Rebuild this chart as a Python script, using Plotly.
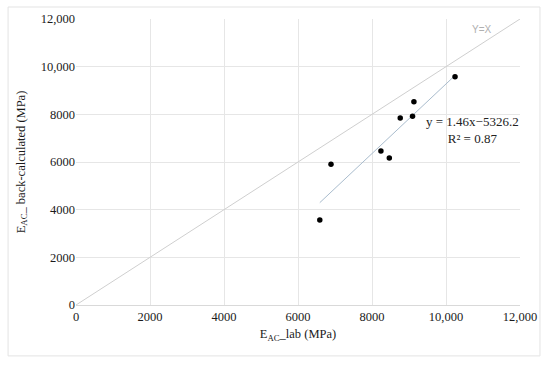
import plotly.graph_objects as go

# Data
lab_mpa = [6589, 6892, 8241, 8468, 8763, 9095, 9133, 10244]
backcalc_mpa = [3566, 5902, 6462, 6168, 7846, 7916, 8531, 9580]
slope = 1.46
intercept = -5326.2
r2 = 0.87
tick_vals = [0, 2000, 4000, 6000, 8000, 10000, 12000]
tick_text = ["0", "2000", "4000", "6000", "8000", "10,000", "12,000"]
axis_max = 12000

FONT = "Liberation Serif, DejaVu Serif, serif"

x_fit = [min(lab_mpa), max(lab_mpa)]
y_fit = [slope * v + intercept for v in x_fit]

fig = go.Figure()
fig.add_trace(go.Scatter(x=[0, axis_max], y=[0, axis_max], mode="lines",
                         line=dict(color="#cfcfcf", width=1), showlegend=False,
                         hoverinfo="skip"))
fig.add_trace(go.Scatter(x=x_fit, y=y_fit, mode="lines",
                         line=dict(color="#a9bccd", width=1), showlegend=False))
fig.add_trace(go.Scatter(x=lab_mpa, y=backcalc_mpa, mode="markers",
                         marker=dict(color="#000000", size=5.5), showlegend=False))

fig.add_annotation(x=10703, y=7360, xref="x", yref="y",
                   text=f"y = {slope}x\u2212{abs(intercept)}<br>R\u00b2 = {r2}",
                   showarrow=False, align="center",
                   font=dict(family=FONT, size=13, color="#222222"))
fig.add_annotation(x=10973, y=11580, xref="x", yref="y", text="Y=X",
                   showarrow=False, font=dict(family="Liberation Sans, Arial, sans-serif",
                                              size=10, color="#b0b0b0"))

# outer frame
fig.add_shape(type="rect", xref="paper", yref="paper",
              x0=-0.153, x1=1.045, y0=-0.178, y1=1.042,
              line=dict(color="#e3e3e3", width=1), layer="below")

axis_common = dict(range=[0, axis_max], tickvals=tick_vals, ticktext=tick_text,
                   showgrid=True, gridcolor="#e6e6e6", gridwidth=1,
                   zeroline=False, ticks="", automargin=False,
                   tickfont=dict(family=FONT, size=12.5, color="#1a1a1a"))

fig.update_xaxes(**axis_common, showline=True, linecolor="#d9d9d9", mirror=False,
                 title=dict(text="E<sub>AC</sub>_lab (MPa)", standoff=6,
                            font=dict(family=FONT, size=12.5, color="#1a1a1a")))
fig.update_yaxes(**axis_common, showline=False,
                 title=dict(text="E<sub>AC</sub>_ back-calculated (MPa)", standoff=12,
                            font=dict(family=FONT, size=12.5, color="#1a1a1a")))

fig.update_layout(width=550, height=369,
                  margin=dict(l=76, r=30, t=19, b=64),
                  paper_bgcolor="white", plot_bgcolor="white",
                  showlegend=False)

fig.write_html("out.html", config={"displayModeBar": False},
               post_script="document.body.style.margin='0';document.body.style.padding='0';")
